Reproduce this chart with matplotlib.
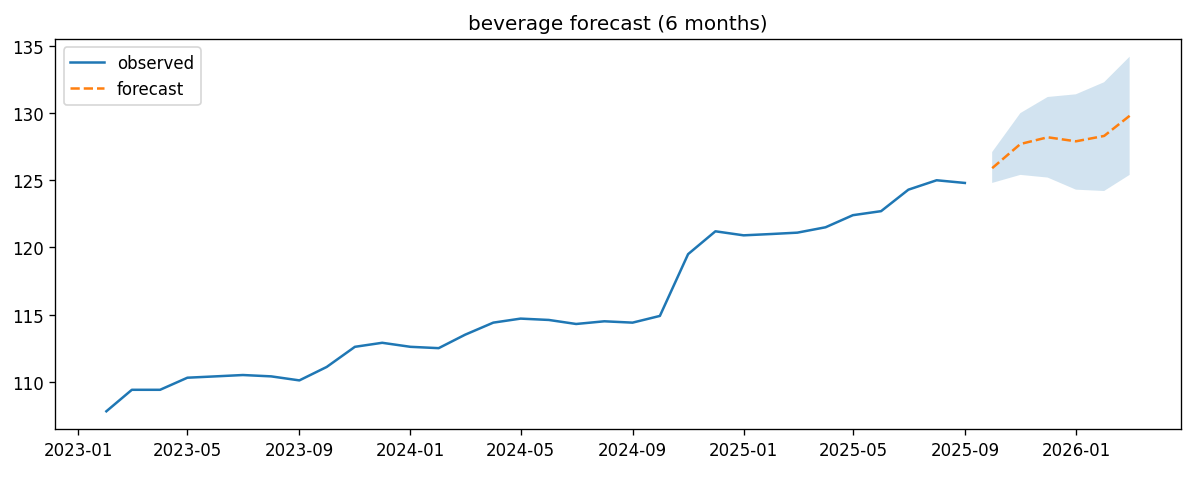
import matplotlib
matplotlib.use("Agg")
import matplotlib.pyplot as plt
import pandas as pd

obs_dates = pd.date_range("2023-02-01", "2025-09-01", freq="MS")
obs_vals = [107.8, 109.4, 109.4, 110.3, 110.4, 110.5, 110.4, 110.1, 111.1, 112.6,
            112.9, 112.6, 112.5, 113.5, 114.4, 114.7, 114.6, 114.3, 114.5, 114.4,
            114.9, 119.5, 121.2, 120.9, 121.0, 121.1, 121.5, 122.4, 122.7, 124.3,
            125.0, 124.8]

fc_dates = pd.date_range("2025-10-01", "2026-03-01", freq="MS")
fc_vals = [125.9, 127.7, 128.2, 127.9, 128.3, 129.8]
fc_upper = [127.1, 130.0, 131.2, 131.4, 132.3, 134.2]
fc_lower = [124.8, 125.4, 125.2, 124.3, 124.2, 125.4]

fig, ax = plt.subplots(figsize=(10, 4.008), dpi=120)
ax.plot(obs_dates, obs_vals, label="observed")
ax.plot(fc_dates, fc_vals, "--", label="forecast")
ax.fill_between(fc_dates, fc_lower, fc_upper, alpha=0.2)
ax.set_title("beverage forecast (6 months)")
ax.legend(loc="upper left")
fig.subplots_adjust(left=0.046, right=0.984, top=0.917, bottom=0.106)
fig.savefig("out.png")
